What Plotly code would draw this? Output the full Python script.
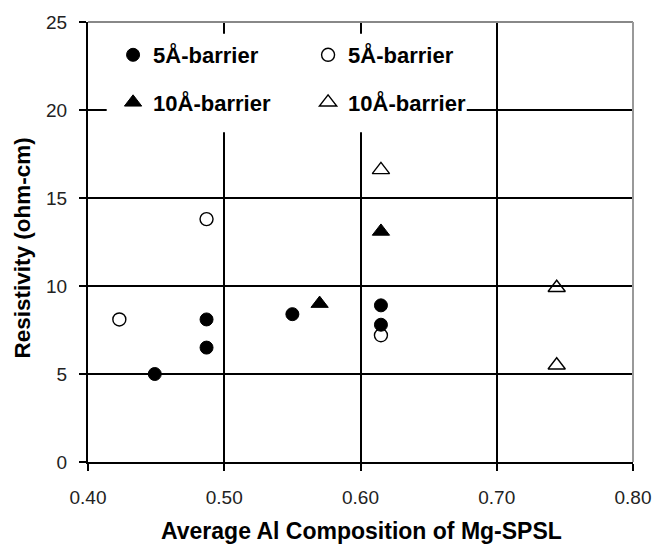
import plotly.graph_objects as go

# Average Al composition (x) and resistivity in ohm-cm (y)
x_5a_filled = [0.449, 0.487, 0.487, 0.550, 0.615, 0.615]
y_5a_filled = [5.0, 6.5, 8.1, 8.4, 8.9, 7.8]

x_5a_open = [0.423, 0.487, 0.615]
y_5a_open = [8.1, 13.8, 7.2]

x_10a_filled = [0.570, 0.615]
y_10a_filled = [9.0, 13.1]

x_10a_open = [0.615, 0.744, 0.744]
y_10a_open = [16.6, 9.9, 5.5]

x_ticks = [0.40, 0.50, 0.60, 0.70, 0.80]
y_ticks = [0, 5, 10, 15, 20, 25]

x_title = "Average Al Composition of Mg-SPSL"
y_title = "Resistivity (ohm-cm)"

FONT = "Liberation Sans, Arial, sans-serif"

fig = go.Figure()
fig.add_trace(go.Scatter(
    x=x_5a_filled, y=y_5a_filled, mode="markers", name="5Å-barrier", legend="legend",
    marker=dict(symbol="circle", size=13, color="black", line=dict(color="black", width=1)),
))
fig.add_trace(go.Scatter(
    x=x_5a_open, y=y_5a_open, mode="markers", name="5Å-barrier", legend="legend",
    marker=dict(symbol="circle-open", size=13, color="black", line=dict(color="black", width=1.4)),
))
fig.add_trace(go.Scatter(
    x=x_10a_filled, y=y_10a_filled, mode="markers", name="10Å-barrier", legend="legend2",
    marker=dict(symbol="triangle-up", size=15, color="black", line=dict(color="black", width=1)),
))
fig.add_trace(go.Scatter(
    x=x_10a_open, y=y_10a_open, mode="markers", name="10Å-barrier", legend="legend2",
    marker=dict(symbol="triangle-up-open", size=15, color="black", line=dict(color="black", width=1.4)),
))

legend_style = dict(
    orientation="h", xanchor="left", yanchor="middle",
    bgcolor="rgba(0,0,0,0)", borderwidth=0,
    entrywidth=150, entrywidthmode="pixels",
    font=dict(family=FONT, size=22, color="black", weight="bold"),
)

fig.update_layout(
    width=663, height=550,
    margin=dict(l=88, r=21, t=15, b=88),
    paper_bgcolor="white", plot_bgcolor="white",
    font=dict(family=FONT, color="black", size=19),
    showlegend=True,
    legend=dict(x=0.046, y=0.925, **legend_style),
    legend2=dict(x=0.046, y=0.817, **legend_style),
    xaxis=dict(
        range=[0.40, 0.80], tickvals=x_ticks, ticktext=[f"{v:.2f}" for v in x_ticks],
        showgrid=True, gridcolor="black", gridwidth=2,
        showline=True, linecolor="black", linewidth=2,
        ticks="outside", ticklen=7, tickwidth=2, tickcolor="black",
        ticklabelstandoff=10,
        zeroline=False,
        tickfont=dict(size=19, color="#222222"),
    ),
    yaxis=dict(
        range=[0, 25], tickvals=y_ticks,
        showgrid=True, gridcolor="black", gridwidth=2,
        showline=True, linecolor="black", linewidth=2,
        ticks="outside", ticklen=7, tickwidth=2, tickcolor="black",
        ticklabelstandoff=8,
        zeroline=False,
        tickfont=dict(size=19, color="#222222"),
    ),
)

# axis titles
fig.add_annotation(text=x_title, xref="paper", yref="paper", x=0.502, y=-0.1566,
                   xanchor="center", yanchor="middle", showarrow=False,
                   font=dict(family=FONT, size=23, weight="bold", color="black"))
fig.add_annotation(text=y_title, xref="paper", yref="paper", x=-0.121, y=0.4855,
                   xanchor="center", yanchor="middle", textangle=-90, showarrow=False,
                   font=dict(family=FONT, size=22.5, weight="bold", color="black"))

# white panel behind the legend entries, drawn over the grid
fig.add_shape(type="rect", xref="paper", yref="paper",
              x0=0.0343, x1=0.695, y0=0.7494, y1=0.9732,
              fillcolor="white", line=dict(width=0), layer="above")

# light grey frame along the top and right edges of the plot area
fig.add_shape(type="line", xref="paper", yref="paper", x0=0, x1=1, y0=1, y1=1,
              line=dict(color="#888888", width=2))
fig.add_shape(type="line", xref="paper", yref="paper", x0=1, x1=1, y0=0, y1=1,
              line=dict(color="#999999", width=2))

fig.write_html("out.html")
